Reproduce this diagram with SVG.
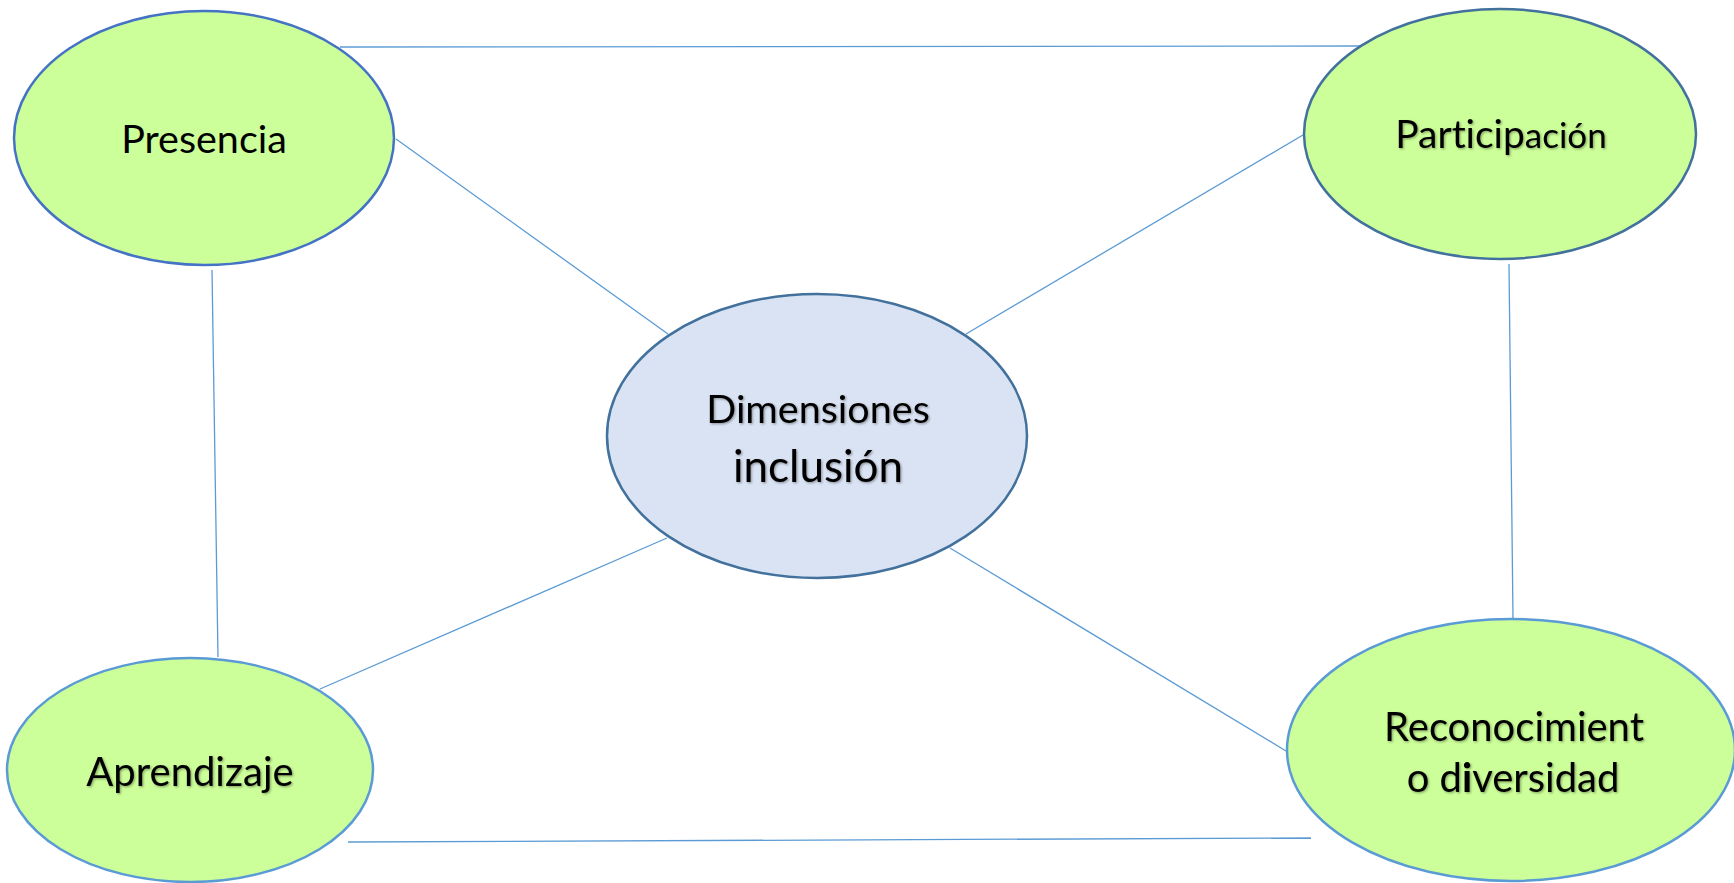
<svg xmlns="http://www.w3.org/2000/svg" width="1734" height="883" viewBox="0 0 1734 883">
<defs>
<style>
.conn{stroke:#5B9BD5;stroke-width:1.3;fill:none}
.green{fill:#CCFF99}
.dark{stroke:#41719C;stroke-width:2.5}
.mid{stroke:#4472C4;stroke-width:2.5}
.light{stroke:#5B9BD5;stroke-width:2.5}
.center{fill:#DAE3F3}
.lbl{font-family:Lato,"Open Sans",sans-serif;fill:#000;text-anchor:middle;font-variant-ligatures:none}
.sh{filter:url(#shadow)}
</style>
<filter id="shadow" x="-10%" y="-30%" width="120%" height="160%">
<feDropShadow dx="1.2" dy="1.2" stdDeviation="1.2" flood-color="#000" flood-opacity="0.35"/>
</filter>
</defs>
<rect width="1734" height="883" fill="#fff"/>
<g id="connectors">
<line class="conn" x1="340" y1="47" x2="1362" y2="46"/>
<line class="conn" x1="396" y1="139" x2="668" y2="334"/>
<line class="conn" x1="1303" y1="135" x2="966" y2="334"/>
<line class="conn" x1="667" y1="538" x2="320" y2="689"/>
<line class="conn" x1="950" y1="548" x2="1286" y2="751"/>
<line class="conn" x1="212" y1="270" x2="218" y2="657"/>
<line class="conn" x1="1509" y1="264" x2="1513" y2="619"/>
<line class="conn" x1="348" y1="842" x2="1311" y2="838"/>
</g>
<g id="presencia">
<ellipse class="green mid" cx="204" cy="138" rx="190" ry="127"/>
<text class="lbl" x="204" y="153" font-size="39.5">Presencia</text>
</g>
<g id="participacion">
<ellipse class="green dark" cx="1500" cy="134" rx="196" ry="125"/>
<text class="lbl sh" x="1501" y="148" font-size="39">Particip<tspan font-size="35">ación</tspan></text>
</g>
<g id="dimensiones">
<ellipse class="center dark" cx="817" cy="436" rx="210" ry="142"/>
<text class="lbl sh" x="818" y="423" font-size="39.5">Dimensiones</text>
<text class="lbl sh" x="818" y="482" font-size="44">inclusión</text>
</g>
<g id="aprendizaje">
<ellipse class="green light" cx="190" cy="770" rx="183" ry="112"/>
<text class="lbl sh" x="190" y="786" font-size="40">Aprendizaje</text>
</g>
<g id="reconocimiento">
<ellipse class="green light" cx="1511" cy="750" rx="224" ry="131"/>
<text class="lbl sh" x="1514" y="741" font-size="40">Reconocimient</text>
<text class="lbl sh" x="1513" y="792" font-size="40">o d<tspan font-weight="bold">i</tspan>versidad</text>
</g>
</svg>
